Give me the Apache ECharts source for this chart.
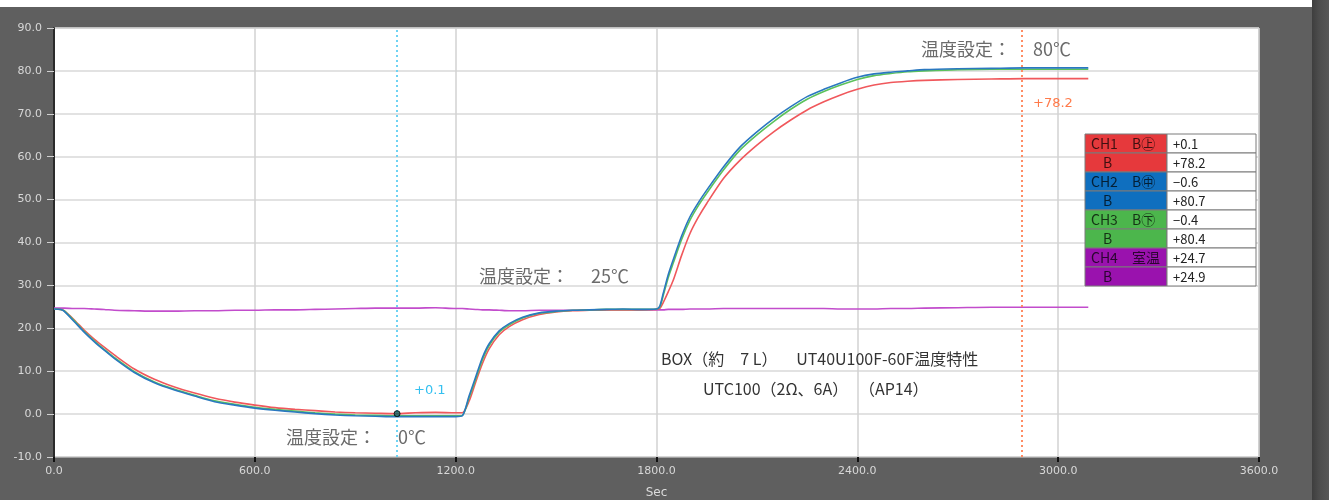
<!DOCTYPE html>
<html><head><meta charset="utf-8">
<script src="https://cdn.jsdelivr.net/npm/echarts@6/dist/echarts.min.js"></script>
<style>html,body{margin:0;padding:0;background:#5f5f5f;overflow:hidden}#c{width:1329px;height:500px}</style>
</head><body><div id="c"></div>
<script>
// time axis (Sec)
const secs = [0,20,30,60,90, 120,150,180,240,300, 360,420,480,540,600, 660,720,780,840,900,
  960,1020,1080,1140,1200, 1220,1240,1260,1280,1300, 1330,1360,1400,1450,1500, 1550,1600,1650,1700,1750,
  1800,1810,1820,1835,1850, 1875,1900,1925,1950,2000, 2050,2100,2150,2200,2250, 2300,2350,2400,2450,2500,
  2550,2600,2700,2800,2900, 3000,3090];
// CH1 (red)
const ch1 = [24.5,24.4,24.1,22.0,19.6, 17.5,15.6,13.8,10.5,8.1, 6.3,4.9,3.7,2.8,2.1, 1.5,1.1,0.8,0.5,0.3,
  0.2,0.1,0.3,0.4,0.3, 0.3,3.0,7.5,11.8,15.2, 18.5,20.4,22.0,23.2,23.8, 24.1,24.2,24.3,24.3,24.3,
  24.4,24.6,26.0,28.5,31.2, 37.0,42.1,45.9,49.1,54.9, 59.2,62.7,65.8,68.5,70.9, 72.8,74.4,75.7,76.7,77.3,
  77.6,77.8,78.0,78.1,78.2, 78.2,78.2];
// CH2 (blue)
const ch2 = [24.5,24.4,24.0,21.6,19.1, 16.9,14.9,13.0,9.7,7.3, 5.6,4.2,2.9,2.1,1.4, 0.9,0.5,0.1,-0.2,-0.4,
  -0.5,-0.6,-0.6,-0.6,-0.6, -0.4,4.2,8.7,13.2,16.4, 19.4,21.1,22.6,23.6,24.0, 24.2,24.3,24.4,24.5,24.4,
  24.5,25.2,28.1,32.5,36.0, 41.5,46.0,49.3,52.2,57.6, 62.3,65.8,68.9,71.6,74.0, 75.7,77.2,78.5,79.3,79.7,
  80.0,80.3,80.5,80.6,80.7, 80.7,80.7];
// CH3 (green)
const ch3 = [24.5,24.4,24.1,21.8,19.3, 17.1,15.1,13.2,9.9,7.5, 5.8,4.4,3.1,2.3,1.6, 1.1,0.7,0.3,0.0,-0.2,
  -0.3,-0.4,-0.4,-0.4,-0.4, -0.3,3.8,8.2,12.7,16.0, 19.1,20.8,22.4,23.5,23.9, 24.2,24.3,24.4,24.4,24.4,
  24.5,25.0,27.6,31.8,35.2, 40.7,45.2,48.6,51.5,56.9, 61.6,65.1,68.2,71.0,73.4, 75.2,76.7,78.0,78.9,79.4,
  79.8,80.0,80.3,80.4,80.4, 80.4,80.4];
// CH4 room temperature (purple)
const ch4 = [24.7,24.7,24.7,24.6,24.6, 24.5,24.4,24.2,24.1,24.0, 24.0,24.1,24.1,24.2,24.2, 24.3,24.3,24.4,24.5,24.6,
  24.7,24.7,24.7,24.8,24.6, 24.6,24.5,24.4,24.3,24.3, 24.2,24.1,24.1,24.2,24.2, 24.2,24.3,24.3,24.3,24.3,
  24.3,24.3,24.3,24.4,24.4, 24.4,24.5,24.5,24.5,24.6, 24.6,24.6,24.6,24.6,24.6, 24.6,24.5,24.5,24.5,24.6,
  24.6,24.7,24.8,24.9,24.9, 24.9,24.9];

const cursorSecs = [1025, 2890];
const cursorValue = 0.1;
const cursorLabels = ['+0.1', '+78.2'];
const legendCh = ['CH1', '', 'CH2', '', 'CH3', '', 'CH4', ''];
const legendSub = ['B㊤', 'B', 'B㊥', 'B', 'B㊦', 'B', '室温', 'B'];
const legendValues = ['+0.1', '+78.2', '−0.6', '+80.7', '−0.4', '+80.4', '+24.7', '+24.9'];
const notes = ['温度設定：　 80℃', '温度設定：　 25℃', '温度設定：　 0℃'];
const title1 = 'BOX（約　7 L）　   UT40U100F-60F温度特性';
const title2 = 'UTC100（2Ω、6A）   （AP14）';

const lineCols = ['#f0585c', '#2a78c0', '#5cc25c', '#c24ccc'];
const cellCols = ['#e6393c', '#0f6fbf', '#4cb64c', '#9a12ae'];

const pairs = a => secs.map((t, i) => [t, a[i]]);
const numFont = 'DejaVu Sans';
const cjk = '"Noto Sans CJK JP", sans-serif';

const chart = echarts.init(document.getElementById('c'));

const graphic = [
  { type: 'rect', shape: { x: 0, y: 0, width: 1312, height: 7 }, style: { fill: '#ffffff' }, z: 1 },
  { type: 'rect', shape: { x: 1312, y: 0, width: 17, height: 500 },
    style: { fill: new echarts.graphic.LinearGradient(0, 0, 1, 0, [{ offset: 0, color: '#3e3e3e' }, { offset: 0.4, color: '#4c4c4c' }, { offset: 1, color: '#565656' }]) }, z: 1 },
  { type: 'text', x: 921, y: 49, z: 100, style: { text: notes[0], fill: '#6b6b6b', font: '18px ' + cjk, verticalAlign: 'middle' } },
  { type: 'text', x: 479, y: 276, z: 100, style: { text: notes[1], fill: '#6b6b6b', font: '18px ' + cjk, verticalAlign: 'middle' } },
  { type: 'text', x: 286, y: 437, z: 100, style: { text: notes[2], fill: '#6b6b6b', font: '18px ' + cjk, verticalAlign: 'middle' } },
  { type: 'text', x: 661, y: 359, z: 100, style: { text: title1, fill: '#333', font: '16px ' + cjk, verticalAlign: 'middle' } },
  { type: 'text', x: 703, y: 389, z: 100, style: { text: title2, fill: '#333', font: '16px ' + cjk, verticalAlign: 'middle' } },
  { type: 'text', x: 414, y: 391, z: 100, style: { text: cursorLabels[0], fill: '#34c0f0', font: '13px ' + numFont, verticalAlign: 'middle' } },
  { type: 'text', x: 1033, y: 104, z: 100, style: { text: cursorLabels[1], fill: '#ff7a4a', font: '13px ' + numFont, verticalAlign: 'middle' } }
];
const tx = 1085, ty = 134, rh = 19, lw = 82, rw = 89;
for (let i = 0; i < 8; i++) {
  const y = ty + rh * i;
  const c = cellCols[Math.floor(i / 2)];
  graphic.push({ type: 'rect', z: 90, shape: { x: tx, y: y, width: lw, height: rh }, style: { fill: c, stroke: '#7a7a7a', lineWidth: 1 } });
  graphic.push({ type: 'rect', z: 90, shape: { x: tx + lw, y: y, width: rw, height: rh }, style: { fill: '#fff', stroke: '#7a7a7a', lineWidth: 1 } });
  if (legendCh[i]) graphic.push({ type: 'text', z: 95, x: tx + 6, y: y + rh / 2 + 0.5, style: { text: legendCh[i], fill: 'rgba(0,0,0,0.72)', font: '14px ' + cjk, verticalAlign: 'middle' } });
  graphic.push({ type: 'text', z: 95, x: legendCh[i] ? tx + 47 : tx + 18, y: y + rh / 2 + 0.5, style: { text: legendSub[i], fill: 'rgba(0,0,0,0.72)', font: '14px ' + cjk, verticalAlign: 'middle' } });
  graphic.push({ type: 'text', z: 95, x: tx + lw + 6, y: y + rh / 2 + 0.5, style: { text: legendValues[i], fill: '#222', font: '13px ' + cjk, verticalAlign: 'middle' } });
}

const mkLine = (name, data, col, extra) => Object.assign({
  name: name, type: 'line', data: pairs(data), showSymbol: false, smooth: 0.25,
  lineStyle: { color: col, width: 1.6 }, itemStyle: { color: col }, silent: true, animation: false, z: 3
}, extra || {});

chart.setOption({
  backgroundColor: '#5f5f5f',
  animation: false,
  grid: { left: 54, right: 70, top: 28, bottom: 43, containLabel: false, outerBoundsMode: 'none', show: true, backgroundColor: '#ffffff', borderColor: '#9a9a9a', borderWidth: 1 },
  xAxis: {
    type: 'value', min: 0, max: 3600, interval: 600,
    name: 'Sec', nameLocation: 'middle', nameGap: 30,
    nameTextStyle: { color: '#dcdcdc', fontSize: 12, fontFamily: numFont },
    axisLine: { show: true, onZero: false, lineStyle: { color: '#a0a0a0', width: 1 } },
    axisTick: { show: true, length: 5, lineStyle: { color: '#111', width: 2 } },
    axisLabel: { color: '#d8d8d8', fontSize: 11, fontFamily: numFont, margin: 9, formatter: v => v.toFixed(1) },
    splitLine: { show: true, lineStyle: { color: '#d2d2d2', width: 1.5 } }
  },
  yAxis: {
    type: 'value', min: -10, max: 90, interval: 10,
    axisLine: { show: true, lineStyle: { color: '#2a2a2a', width: 2 } },
    axisTick: { show: true, length: 7, lineStyle: { color: '#d0d0d0', width: 1 } },
    axisLabel: { color: '#d8d8d8', fontSize: 11, fontFamily: numFont, margin: 12, formatter: v => v.toFixed(1) },
    splitLine: { show: true, lineStyle: { color: '#d8d8d8', width: 1.5 } }
  },
  graphic: graphic,
  series: [
    mkLine('CH4', ch4, lineCols[3]),
    mkLine('CH1', ch1, lineCols[0], {
      markLine: {
        silent: true, symbol: 'none', label: { show: false },
        data: [
          { xAxis: cursorSecs[0], lineStyle: { color: '#6fd3f3', type: [2, 3], width: 2 } },
          { xAxis: cursorSecs[1], lineStyle: { color: '#ff8c64', type: [2, 3], width: 2 } }
        ]
      }
    }),
    mkLine('CH3', ch3, lineCols[2]),
    mkLine('CH2', ch2, lineCols[1]),
    {
      type: 'scatter', data: [[cursorSecs[0], cursorValue]], symbolSize: 6, silent: true, z: 10,
      itemStyle: { color: '#0d5c5c', borderColor: '#000', borderWidth: 1 }
    }
  ]
});
</script>
</body></html>
